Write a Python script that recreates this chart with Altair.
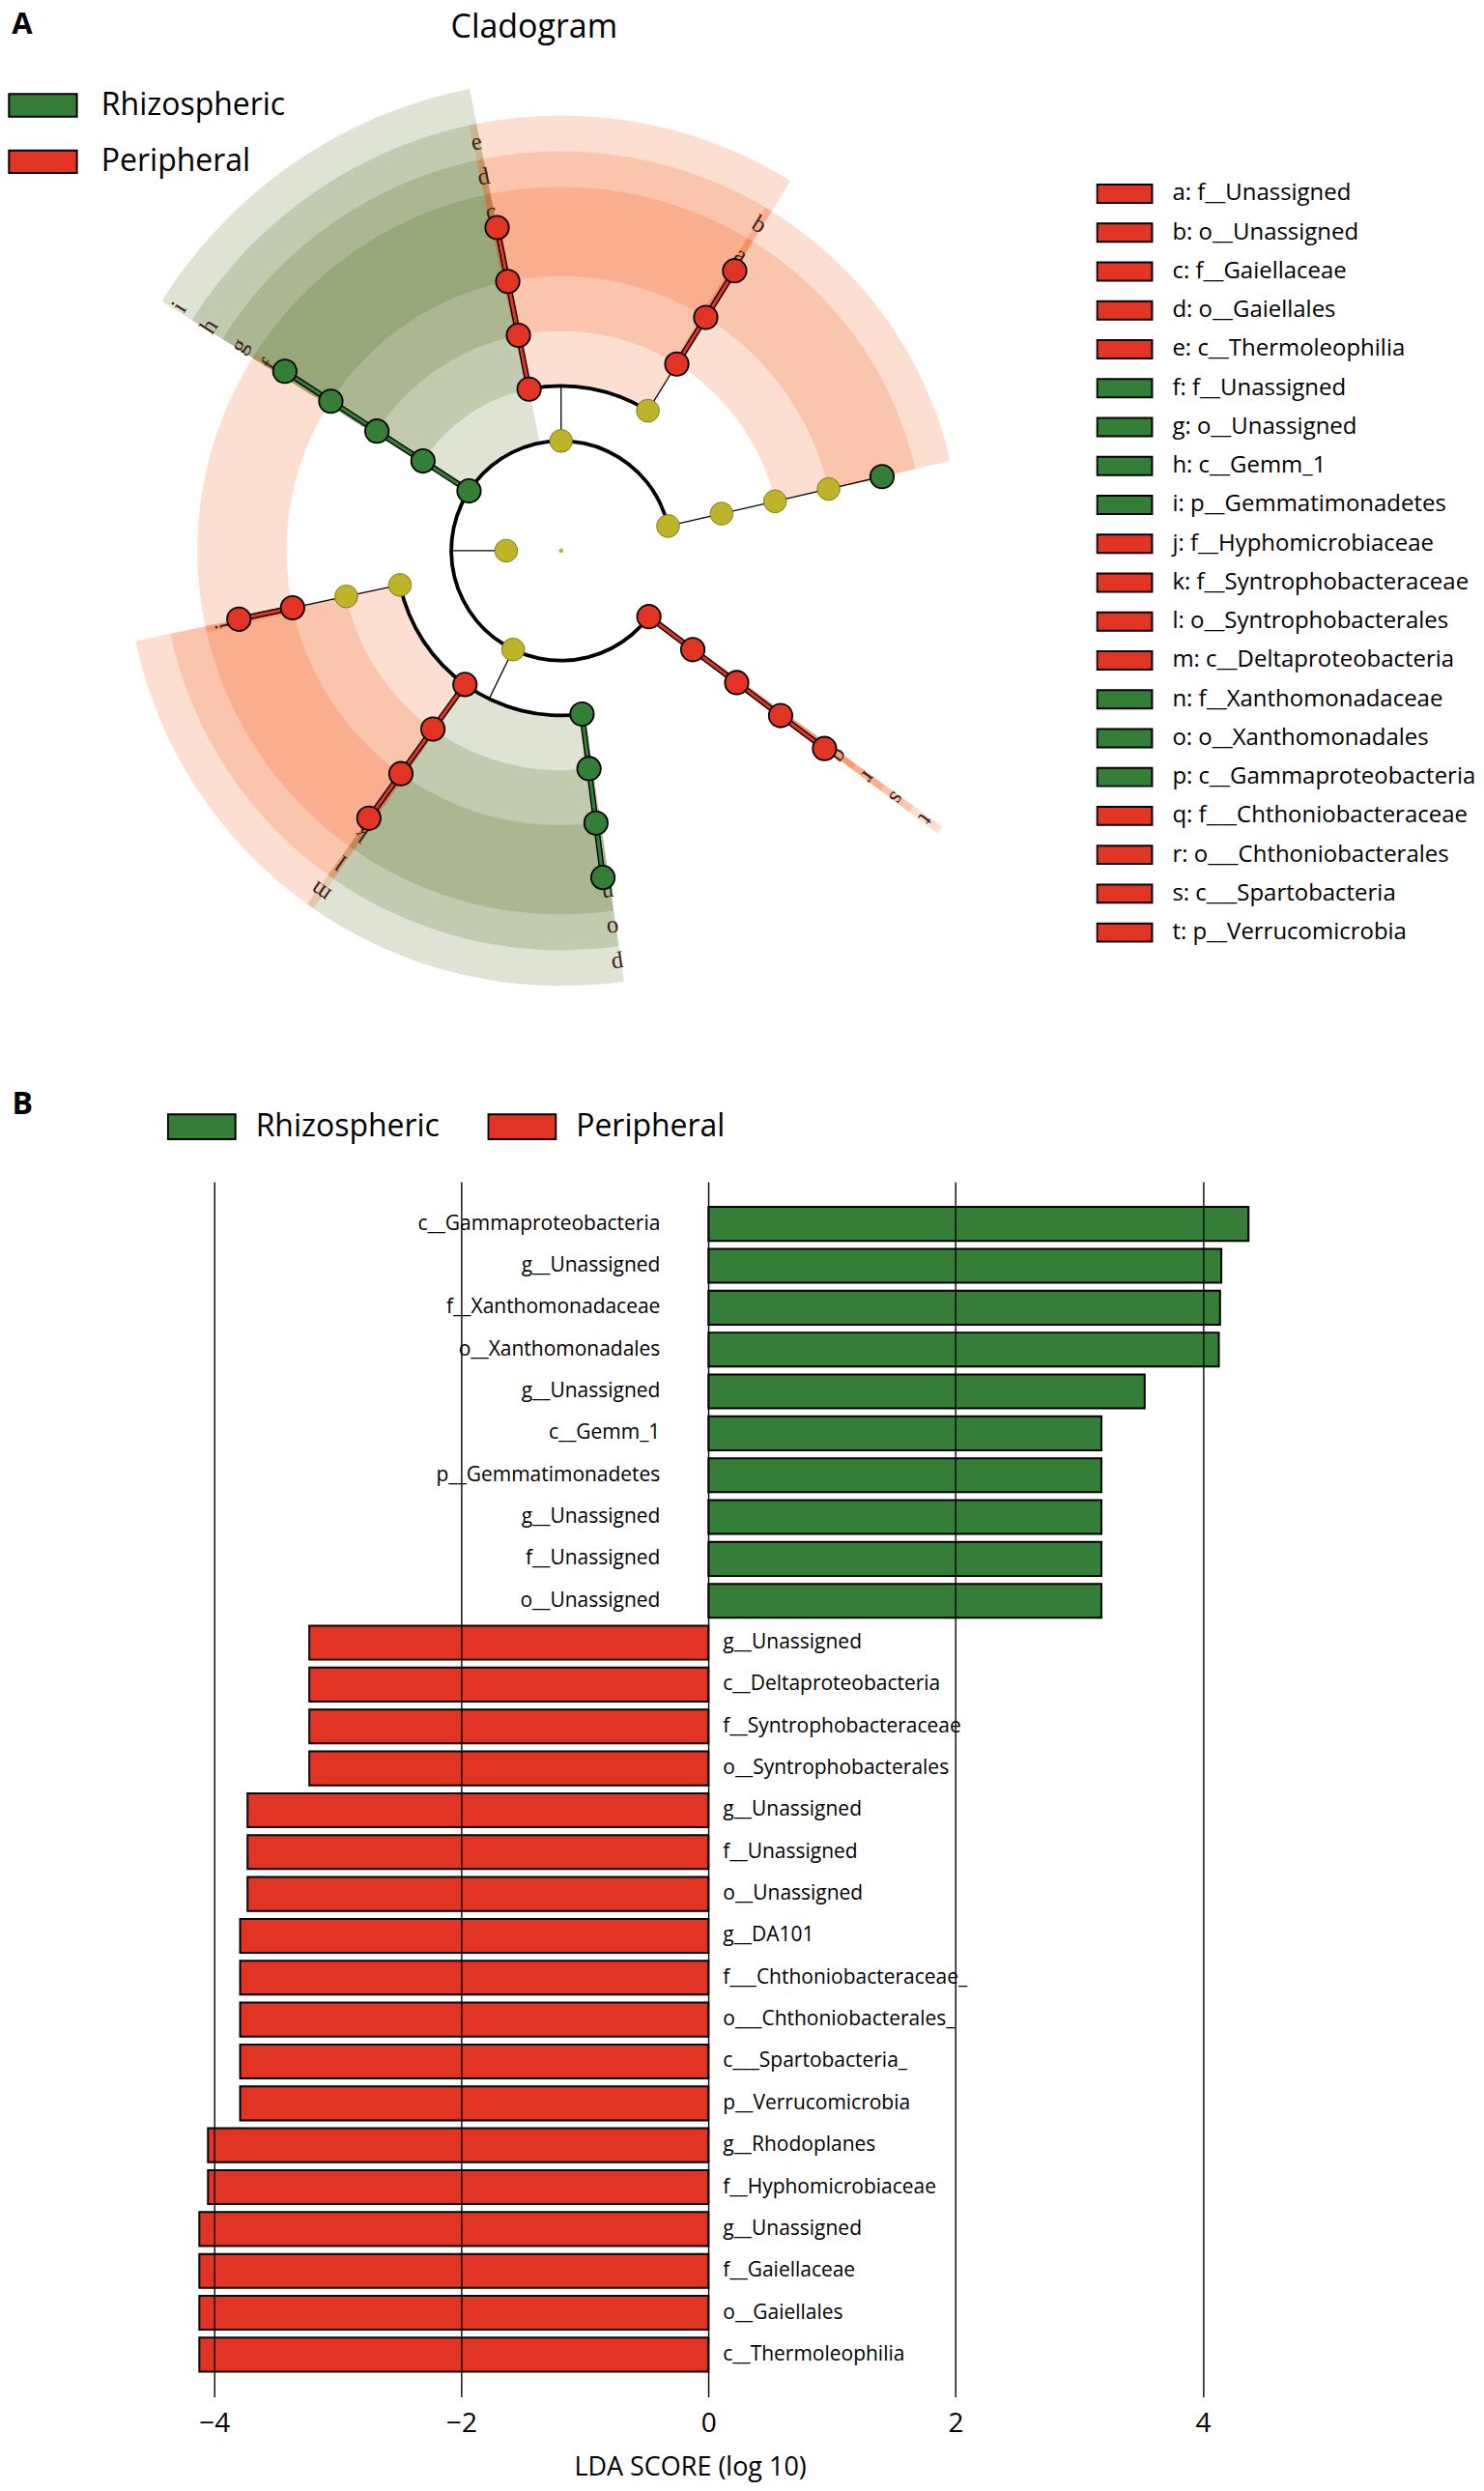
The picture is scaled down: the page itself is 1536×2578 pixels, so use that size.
import math
import numpy as np
import pandas as pd
import altair as alt

FONT = "Open Sans"
RED = "#E13424"
GREEN = "#347E37"
YELLOW = "#BDB42A"
SECT_RED = "#F44D05"
SECT_GREEN = "#3D5A02"

# ---------------------------------------------------------------- Panel A data
# cladogram tree: parent links and angular position (degrees clockwise from top)
NODE_ID = [
    "root", "Bacteria",
    "Actinobacteria", "Phylum_77", "t", "Proteobacteria", "i",
    "e", "Class_31", "Class_77", "s", "p", "m", "Alphaproteobacteria", "h",
    "d", "b", "Order_77", "r", "o", "l", "Rhizobiales", "g",
    "c", "a", "Family_77", "q", "n", "k", "j", "f",
    "gen_c", "gen_a", "gen_77", "gen_q", "gen_n", "gen_k", "gen_j", "gen_f",
]
NODE_PARENT = [
    "", "root",
    "Bacteria", "Bacteria", "Bacteria", "Bacteria", "Bacteria",
    "Actinobacteria", "Actinobacteria", "Phylum_77", "t", "Proteobacteria", "Proteobacteria",
    "Proteobacteria", "i",
    "e", "Class_31", "Class_77", "s", "p", "m", "Alphaproteobacteria", "h",
    "d", "b", "Order_77", "r", "o", "l", "Rhizobiales", "g",
    "c", "a", "Family_77", "q", "n", "k", "j", "f",
]
NODE_ANGLE = [
    0, 270,
    0, 77, 126.9, 205.9, 303,
    348.8, 31.8, 77, 126.9, 172.7, 215.7, 258, 303,
    348.8, 31.8, 77, 126.9, 172.7, 215.7, 258, 303,
    348.8, 31.8, 77, 126.9, 172.7, 215.7, 258, 303,
    348.8, 31.8, 77, 126.9, 172.7, 215.7, 258, 303,
]
NODE_GROUP = [
    "none", "none",
    "none", "none", "Peripheral", "none", "Rhizospheric",
    "Peripheral", "none", "none", "Peripheral", "Rhizospheric", "Peripheral", "none", "Rhizospheric",
    "Peripheral", "Peripheral", "none", "Peripheral", "Rhizospheric", "Peripheral", "none", "Rhizospheric",
    "Peripheral", "Peripheral", "none", "Peripheral", "Rhizospheric", "Peripheral", "Peripheral", "Rhizospheric",
    "Peripheral", "Peripheral", "Rhizospheric", "Peripheral", "Rhizospheric", "Peripheral", "Peripheral",
    "Rhizospheric",
]

CLADE_LETTER = list("abcdefghijklmnopqrst")
CLADE_NAME = [
    "f__Unassigned", "o__Unassigned", "f__Gaiellaceae", "o__Gaiellales", "c__Thermoleophilia",
    "f__Unassigned", "o__Unassigned", "c__Gemm_1", "p__Gemmatimonadetes", "f__Hyphomicrobiaceae",
    "f__Syntrophobacteraceae", "o__Syntrophobacterales", "c__Deltaproteobacteria", "f__Xanthomonadaceae",
    "o__Xanthomonadales", "c__Gammaproteobacteria", "f___Chthoniobacteraceae", "o___Chthoniobacterales",
    "c___Spartobacteria", "p__Verrucomicrobia",
]
# angle where each highlighted clade's shaded sector ends (degrees clockwise from top)
CLADE_SECTOR_END = [77, 77, 391.8, 391.8, 391.8, 348.8, 348.8, 348.8, 348.8, 303,
                    258, 258, 258, 215.7, 215.7, 215.7, 126.9, 126.9, 126.9, 126.9]

# connecting arcs of branching nodes: level of the arc, start and end angle
ARC_LEVEL = [2, 3, 3]
ARC_FROM = [126.9, 348.8, 172.7]
ARC_TO = [437.0, 391.8, 258.0]

# ---------------------------------------------------------------- Panel B data
LDA_NAMES = [
    "c__Gammaproteobacteria", "g__Unassigned", "f__Xanthomonadaceae", "o__Xanthomonadales",
    "g__Unassigned", "c__Gemm_1", "p__Gemmatimonadetes", "g__Unassigned", "f__Unassigned",
    "o__Unassigned", "g__Unassigned", "c__Deltaproteobacteria", "f__Syntrophobacteraceae",
    "o__Syntrophobacterales", "g__Unassigned", "f__Unassigned", "o__Unassigned", "g__DA101",
    "f___Chthoniobacteraceae_", "o___Chthoniobacterales_", "c___Spartobacteria_", "p__Verrucomicrobia",
    "g__Rhodoplanes", "f__Hyphomicrobiaceae", "g__Unassigned", "f__Gaiellaceae", "o__Gaiellales",
    "c__Thermoleophilia",
]
LDA_SCORES = [4.37, 4.15, 4.14, 4.13, 3.53, 3.18, 3.18, 3.18, 3.18, 3.18,
              -3.23, -3.23, -3.23, -3.23, -3.73, -3.73, -3.73,
              -3.79, -3.79, -3.79, -3.79, -3.79, -4.05, -4.05,
              -4.12, -4.12, -4.12, -4.12]
GROUPS = ["Rhizospheric", "Peripheral"]

# ---------------------------------------------------------------- layout constants
WA, HA = 1520, 1070          # panel A view
RSTEP = 56.9                 # px per taxonomic level
CX, CY = 573.5, 561.0        # cladogram centre inside panel A view
STRIP = 1.0                  # deg
OUTER_FAMILY = 377 / RSTEP
RING = 37 / RSTEP
LABEL_INSET = 0.32
ARC_HALF = 1.9 / RSTEP
WB, HB = 1341, 1259
XB = [-5.6706, 4.8]

# ---------------------------------------------------------------- geometry from the tree
lvl = {}
for nid, par in zip(NODE_ID, NODE_PARENT):
    lvl[nid] = 0 if par == "" else lvl[par] + 1
nodes = pd.DataFrame({"id": NODE_ID, "parent": NODE_PARENT, "angle": NODE_ANGLE, "group": NODE_GROUP})
nodes["level"] = nodes["id"].map(lvl)
phi = np.radians(nodes["angle"])
nodes["x"] = nodes["level"] * np.sin(phi)
nodes["y"] = nodes["level"] * np.cos(phi)
pos = nodes.set_index("id")

segs = []
for _, n in nodes.iterrows():
    if n["parent"] in ("", "root"):
        continue
    p = pos.loc[n["parent"]]
    if abs(p["angle"] - n["angle"]) < 1e-6:
        kind = n["group"] if (p["group"] != "none" and n["group"] != "none") else "thin"
        segs.append({"x": p["x"], "y": p["y"], "x2": n["x"], "y2": n["y"], "kind": kind})
for pid in nodes["parent"].unique():
    if pid in ("", "root"):
        continue
    kids = nodes[nodes["parent"] == pid]
    p = pos.loc[pid]
    if (abs(kids["angle"] - p["angle"]) > 1e-6).any():
        a = math.radians(p["angle"])
        L = p["level"]
        segs.append({"x": L * math.sin(a), "y": L * math.cos(a),
                     "x2": (L + 1) * math.sin(a), "y2": (L + 1) * math.cos(a), "kind": "thin"})
segs = pd.DataFrame(segs)

clades = pd.DataFrame({"letter": CLADE_LETTER, "name": CLADE_NAME, "end": CLADE_SECTOR_END})
clades = clades.merge(nodes, left_on="letter", right_on="id")
clades["label"] = clades["letter"] + ": " + clades["name"]
clades["t0"] = clades["angle"] - STRIP
clades["t1"] = clades["end"]
clades["r0"] = clades["level"]
clades["r1"] = OUTER_FAMILY + RING * (5 - clades["level"])
lab_ang = clades["angle"] - STRIP / 2
lab_r = clades["r1"] - LABEL_INSET
clades["lx"] = lab_r * np.sin(np.radians(lab_ang))
clades["ly"] = lab_r * np.cos(np.radians(lab_ang))
clades["rot"] = lab_ang % 360

arcs = pd.DataFrame({"level": ARC_LEVEL, "t0": ARC_FROM, "t1": ARC_TO})
arcs["r0"] = arcs["level"] - ARC_HALF
arcs["r1"] = arcs["level"] + ARC_HALF

# ---------------------------------------------------------------- Panel A chart
xsA = alt.Scale(domain=[-CX / RSTEP, (WA - CX) / RSTEP], nice=False, zero=False)
ysA = alt.Scale(domain=[(CY - HA) / RSTEP, CY / RSTEP], nice=False, zero=False)
TS = alt.Scale(domain=[0, 360], range=[0, 2 * math.pi], nice=False, zero=False)
RS = alt.Scale(type="linear", domain=[0, 10], range=[0, 10 * RSTEP], nice=False, zero=True)
AX_A = alt.Axis(orient="top", domain=False, ticks=False, labels=False, grid=False,
                title="A", titleX=3.7, titleY=25.0, titleAlign="left", titleBaseline="alphabetic",
                titleAngle=0, titleFont=FONT, titleFontSize=31, titleFontWeight="bold", titleColor="black")
AY_A = alt.Axis(orient="left", domain=False, ticks=False, labels=False, grid=False,
                title="Cladogram", titleX=545, titleY=29, titleAlign="center",
                titleBaseline="alphabetic", titleAngle=0, titleFont=FONT, titleFontSize=34,
                titleFontWeight="normal", titleColor="black")


def XA(f):
    return alt.X(f, type="quantitative", scale=xsA, axis=AX_A)


def YA(f):
    return alt.Y(f, type="quantitative", scale=ysA, axis=AY_A)


X0 = alt.XDatum(0, scale=xsA, axis=AX_A)
Y0 = alt.YDatum(0, scale=ysA, axis=AY_A)


def arc_layer(df, **mk):
    return alt.Chart(df).mark_arc(**mk).encode(
        x=X0, y=Y0,
        theta=alt.Theta("t0:Q", scale=TS, stack=None), theta2=alt.Theta2("t1:Q"),
        radius=alt.Radius("r0:Q", scale=RS), radius2=alt.Radius2("r1:Q"))


def seg_layer(df, color, width):
    return alt.Chart(df).mark_rule(color=color, strokeWidth=width).encode(
        x=XA("x"), y=YA("y"), x2=alt.X2("x2:Q"), y2=alt.Y2("y2:Q"))


sect_green = arc_layer(clades[clades["group"] == "Rhizospheric"], fill=SECT_GREEN, opacity=0.17)
sect_red = arc_layer(clades[clades["group"] == "Peripheral"], fill=SECT_RED, opacity=0.18)
black_arcs = arc_layer(arcs, fill="black")
thin = seg_layer(segs[segs["kind"] == "thin"], "black", 1.3)
thick_base = seg_layer(segs[segs["kind"] != "thin"], "black", 6)
thick_green = seg_layer(segs[segs["kind"] == "Rhizospheric"], GREEN, 3.2)
thick_red = seg_layer(segs[segs["kind"] == "Peripheral"], RED, 3.2)

letters = alt.Chart(clades).mark_text(font="Liberation Serif", fontSize=25, color="#3b2218",
                                      baseline="middle", align="center").encode(
    x=XA("lx"), y=YA("ly"), text="letter:N", angle=alt.Angle("rot:Q", scale=None))

root_dot = alt.Chart(nodes[nodes["level"] == 0]).mark_point(
    filled=True, shape="circle", size=22, fill=YELLOW, opacity=1, strokeWidth=0).encode(x=XA("x"), y=YA("y"))
yellow_nodes = alt.Chart(nodes[(nodes["group"] == "none") & (nodes["level"] > 0)]).mark_point(
    filled=True, shape="circle", size=560, fill=YELLOW, opacity=1, stroke="#6f6a18", strokeWidth=0.8
).encode(x=XA("x"), y=YA("y"))

PATH_A = "M-1,-0.333H1V0.333H-1Z"
genus_nodes = alt.Chart(nodes[nodes["level"] == 6]).mark_point(
    filled=True, shape="circle", size=595, opacity=1, stroke="black", strokeWidth=1.8
).encode(
    x=XA("x"), y=YA("y"),
    color=alt.Color("group:N", scale=alt.Scale(domain=GROUPS, range=[GREEN, RED]),
                    legend=alt.Legend(orient="none", direction="vertical", legendX=0, legendY=82.4,
                                      title=None, symbolType=PATH_A, symbolSize=4956,
                                      symbolStrokeColor="black", symbolStrokeWidth=2, symbolOpacity=1,
                                      labelFont=FONT, labelFontSize=32, labelColor="black",
                                      labelOffset=24, clipHeight=34, rowPadding=24.5, padding=0,
                                      labelLimit=0)))

clade_colors = [GREEN if g == "Rhizospheric" else RED for g in clades["group"]]
clade_nodes = alt.Chart(clades).mark_point(
    filled=True, shape="circle", size=595, opacity=1, stroke="black", strokeWidth=1.8
).encode(
    x=XA("x"), y=YA("y"),
    fill=alt.Fill("label:N", scale=alt.Scale(domain=clades["label"].tolist(), range=clade_colors),
                  legend=alt.Legend(orient="none", direction="vertical", legendX=1128, legendY=176,
                                    title=None, symbolType=PATH_A, symbolSize=3249,
                                    symbolStrokeColor="black", symbolStrokeWidth=2, symbolOpacity=1,
                                    labelFont=FONT, labelFontSize=24, labelColor="black",
                                    labelOffset=20, clipHeight=30, rowPadding=10.3, padding=0,
                                    labelLimit=0)))

panelA = alt.layer(
    sect_green, sect_red, black_arcs, thin, thick_base, thick_green, thick_red,
    letters, root_dot, yellow_nodes, genus_nodes, clade_nodes
).properties(width=WA, height=HA)

# ---------------------------------------------------------------- Panel B chart
dfB = pd.DataFrame({"row": list(range(len(LDA_NAMES))), "name": LDA_NAMES, "lda": LDA_SCORES})
dfB["group"] = np.where(dfB["lda"] > 0, "Rhizospheric", "Peripheral")

xsB = alt.Scale(domain=XB, nice=False, zero=False)
ysB = alt.Scale(paddingInner=0.19, paddingOuter=0.6)
axB = alt.Axis(values=[-4, -2, 0, 2, 4], grid=True, gridColor="black", gridWidth=1.4, gridOpacity=1,
               domain=False, ticks=False, tickSize=0, labelFont=FONT, labelFontSize=28,
               labelColor="black", labelPadding=14, title="LDA SCORE (log 10)", titleFont=FONT,
               titleFontSize=27, titleFontWeight="normal", titleColor="black", titlePadding=18,
               titleX=707, titleAlign="center", zindex=1)
ayB = alt.Axis(domain=False, ticks=False, labels=False, grid=False, title="B", titleX=4, titleY=-71,
               titleAngle=0, titleAlign="left", titleBaseline="alphabetic", titleFont=FONT,
               titleFontSize=32, titleFontWeight="bold", titleColor="black")
YB = alt.Y("row:O", scale=ysB, axis=ayB)
PATH_B = "M-1,-0.37H1V0.37H-1Z"

bars = alt.Chart(dfB).mark_bar(stroke="black", strokeWidth=2).encode(
    x=alt.X("lda:Q", scale=xsB, axis=axB), x2=alt.X2Datum(0), y=YB,
    color=alt.Color("group:N", scale=alt.Scale(domain=GROUPS, range=[GREEN, RED]),
                    legend=alt.Legend(orient="none", direction="horizontal", legendX=165, legendY=-74,
                                      title=None, symbolType=PATH_B, symbolSize=4900,
                                      symbolStrokeColor="black", symbolStrokeWidth=2, symbolOpacity=1,
                                      labelFont=FONT, labelFontSize=32, labelColor="black",
                                      labelOffset=20, columnPadding=49, clipHeight=34, padding=0,
                                      labelLimit=0)))
lab_pos = alt.Chart(dfB).transform_filter("datum.lda > 0").mark_text(
    align="right", baseline="middle", dx=-50, font=FONT, fontSize=21, color="black"
).encode(x=alt.XDatum(0, scale=xsB, axis=axB), y=YB, text="name:N")
lab_neg = alt.Chart(dfB).transform_filter("datum.lda < 0").mark_text(
    align="left", baseline="middle", dx=15, font=FONT, fontSize=21, color="black"
).encode(x=alt.XDatum(0, scale=xsB, axis=axB), y=YB, text="name:N")

panelB = alt.layer(bars, lab_pos, lab_neg).properties(width=WB, height=HB)

chart = alt.vconcat(panelA, panelB, spacing=145, bounds="flush").resolve_scale(
    color="independent"
).resolve_legend(
    color="independent"
).properties(
    padding={"left": 0, "top": 0, "right": 0, "bottom": 14}, background="white"
).configure_view(stroke=None)

chart.save("out.html", embed_options={"renderer": "svg", "actions": False})
